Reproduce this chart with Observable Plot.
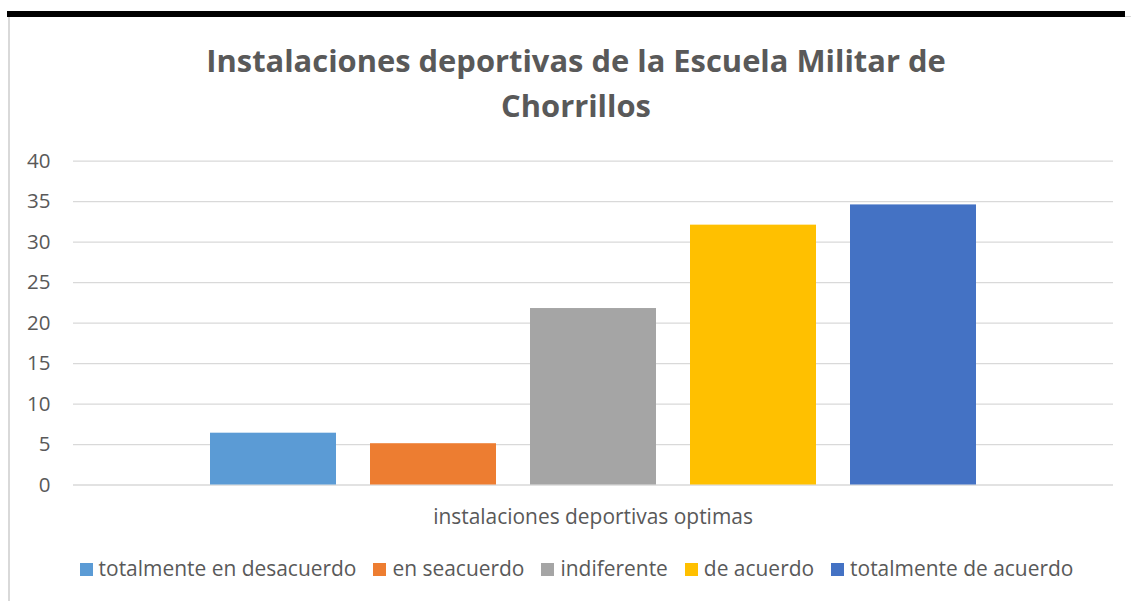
<!DOCTYPE html>
<html><head><meta charset="utf-8">
<script src="https://cdn.jsdelivr.net/npm/d3@7"></script>
<script src="https://cdn.jsdelivr.net/npm/@observablehq/plot@0.6"></script>
<style>
html,body{margin:0;padding:0;background:#fff;}
#wrap{position:relative;width:1131px;height:601px;overflow:hidden;font-family:"Open Sans",sans-serif;color:#595959;}
.abs{position:absolute;white-space:nowrap;}
</style></head><body><div id="wrap"></div>
<script>
const FONT = '"Open Sans", sans-serif';
const categories = ["totalmente en desacuerdo", "en seacuerdo", "indiferente", "de acuerdo", "totalmente de acuerdo"];
const values = [6.4, 5.1, 21.8, 32.1, 34.6];
const colors = ["#5B9BD5", "#ED7D31", "#A5A5A5", "#FFC000", "#4472C4"];
const yTicks = [0, 5, 10, 15, 20, 25, 30, 35, 40];
const titleLines = ["Instalaciones deportivas de la Escuela Militar de", "Chorrillos"];
const xTitle = "instalaciones deportivas optimas";

const data = categories.map((c, i) => ({cat: c, value: values[i]}));
const wrap = document.getElementById("wrap");
const ctx = document.createElement("canvas").getContext("2d");
function metrics(text, weight, size) { ctx.font = `${weight} ${size}px ${FONT}`; return ctx.measureText(text); }
function fitSize(text, weight, target) { return 100 * target / metrics(text, weight, 100).width; }
function placeText(text, {weight = 400, size, cx = null, left = 0, baseline, color = "#595959"}) {
  const m = metrics(text, weight, size);
  const asc = m.fontBoundingBoxAscent, desc = m.fontBoundingBoxDescent;
  const div = document.createElement("div");
  div.className = "abs";
  div.textContent = text;
  div.style.font = `${weight} ${size}px ${FONT}`;
  div.style.lineHeight = size + "px";
  div.style.color = color;
  div.style.top = (baseline - ((size - (asc + desc)) / 2 + asc)) + "px";
  div.style.left = (cx != null ? cx - m.width / 2 : left) + "px";
  wrap.appendChild(div);
  return m.width;
}
function box(l, t, w, h, bg) {
  const d = document.createElement("div");
  d.className = "abs";
  Object.assign(d.style, {left: l + "px", top: t + "px", width: w + "px", height: h + "px", background: bg});
  wrap.appendChild(d);
}

// chart frame decorations
box(7, 11, 1118, 6, "#000");
box(8, 17, 1.5, 600, "#d9d9d9");
box(1125, 16, 6, 1.2, "#d9d9d9");

// title
const tSize = fitSize(titleLines[0], 700, 740);
placeText(titleLines[0], {weight: 700, size: tSize, cx: 576, baseline: 72});
placeText(titleLines[1], {weight: 700, size: tSize, cx: 576, baseline: 117});

// plot
const svgTop = 130;
const chart = Plot.plot({
  width: 1131,
  height: 370,
  marginLeft: 73,
  marginRight: 18,
  marginTop: 160.7 - svgTop,
  marginBottom: 370 - (484.5 - svgTop),
  style: {fontFamily: FONT, fontSize: "20.5px", background: "transparent", overflow: "visible"},
  x: {domain: categories, paddingInner: 0.2125, paddingOuter: 0.856, axis: null},
  y: {domain: [0, 40], axis: null},
  color: {domain: categories, range: colors},
  marks: [
    Plot.gridY(yTicks, {stroke: "#d9d9d9", strokeOpacity: 1, strokeWidth: 1.3}),
    Plot.barY(data, {x: "cat", y: "value", fill: "cat"}),
    Plot.axisY(yTicks, {tickSize: 0, tickPadding: 23, fill: "#595959", label: null})
  ]
});
chart.style.position = "absolute";
chart.style.left = "0px";
chart.style.top = svgTop + "px";
wrap.appendChild(chart);

// x-axis title
const xSize = fitSize(xTitle, 400, 320);
placeText(xTitle, {size: xSize, cx: 593, baseline: 524});

// legend
const lSize = fitSize(categories[0], 400, 258);
const sq = 13, gapST = 6, gapItems = 17;
const widths = categories.map(c => metrics(c, 400, lSize).width);
const total = widths.reduce((a, w) => a + sq + gapST + w, 0) + gapItems * (categories.length - 1);
let x = 576.5 - total / 2;
categories.forEach((c, i) => {
  box(x, 562.5, sq, sq, colors[i]);
  placeText(c, {size: lSize, left: x + sq + gapST, baseline: 576});
  x += sq + gapST + widths[i] + gapItems;
});
</script></body></html>
